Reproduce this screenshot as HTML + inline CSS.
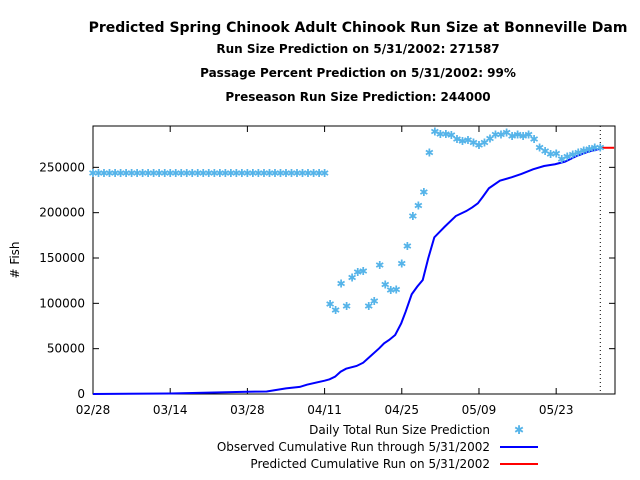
<!DOCTYPE html>
<html><head><meta charset="utf-8"><style>
body{margin:0;background:#fff;}
svg{display:block;font-family:"DejaVu Sans","Liberation Sans",sans-serif;}
</style></head><body>
<svg id="chart" width="640" height="480" viewBox="0 0 640 480">
<g font-weight="bold" text-anchor="middle">
<text x="358" y="32" font-size="14">Predicted Spring Chinook Adult Chinook Run Size at Bonneville Dam</text>
<text x="358" y="53" font-size="12">Run Size Prediction on 5/31/2002: 271587</text>
<text x="358" y="77" font-size="12">Passage Percent Prediction on 5/31/2002: 99%</text>
<text x="358" y="101" font-size="12">Preseason Run Size Prediction: 244000</text>
</g>
<text transform="translate(19,260) rotate(-90)" text-anchor="middle" font-size="12"># Fish</text>
<g id="axes"></g>
<g id="marks"></g>
<g font-size="12" text-anchor="end">
<text x="490" y="434">Daily Total Run Size Prediction</text>
<text x="519" y="434" text-anchor="middle" fill="#56b4e9" font-size="12">✱</text>
<text x="490" y="451">Observed Cumulative Run through 5/31/2002</text>
<line x1="500" y1="447" x2="538" y2="447" stroke="#0000ff" stroke-width="2"/>
<text x="490" y="468">Predicted Cumulative Run on 5/31/2002</text>
<line x1="500" y1="464" x2="538" y2="464" stroke="#ff0000" stroke-width="2"/>
</g>
</svg>
<script>
const xTickDays=[0,14,28,42,56,70,84];
const xTickLabels=["02/28","03/14","03/28","04/11","04/25","05/09","05/23"];
const yTicks=[0,50000,100000,150000,200000,250000];
const dailyDays=[];
const dailyVals=[];
for(let d=0;d<=42;d++){dailyDays.push(d);dailyVals.push(244000);}
const lateDays=[43,44,45,46,47,48,49,50,51,52,53,54,55,56,57,58,59,60,61,62,63,64,65,66,67,68,69,70,71,72,73,74,75,76,77,78,79,80,81,82,83,84,85,86,87,88,89,90,91,92];
const lateVals=[99300,92700,122100,97100,128300,134600,135700,97100,102600,142300,121000,114700,115400,144100,163200,196300,208100,222800,266500,
289300,286800,286800,285700,281300,279100,280200,277200,274600,277600,282000,286400,286400,288600,284600,286400,284600,286400,281300,272100,268000,264700,265500,259200,261800,264400,266600,268400,270200,272100,271700];
dailyDays.push(...lateDays);dailyVals.push(...lateVals);
const obsDays=[0,14,21,28,31.5,35,37.5,38.8,42,42.9,43.9,44.9,45.9,47.8,49,50.1,51.9,52.8,53.7,54.8,55.9,56.7,57.8,58.8,59.8,60.8,61.9,62.9,63.8,65.8,67.7,68.8,69.8,70.7,71.8,73.8,75.9,77.7,79.8,81.8,83.8,85.6,87.7,89.8,91.8];
const obsVals=[0,500,1500,2500,2800,6200,7800,10300,14700,16200,19100,24600,27900,30900,34500,40500,50400,55900,59600,65100,78000,90800,110000,118400,125700,149700,172800,179000,184600,196300,201800,205900,210300,217600,226900,235300,239000,242700,247800,251500,253400,256300,262500,267300,270200];
const predDays=[92,94.5];
const predVals=[271587,271587];
const cutoffDay=92;

const X0=93,X1=615,Y0=394,Y1=126,PXD=5.514,YMAX=295600;
const xs=d=>X0+d*PXD;
const ys=v=>Y0-v/YMAX*(Y0-Y1);
const NS="http://www.w3.org/2000/svg";
function mk(tag,attrs,parent){const e=document.createElementNS(NS,tag);for(const k in attrs)e.setAttribute(k,attrs[k]);parent.appendChild(e);return e;}
const axes=document.getElementById('axes'),marks=document.getElementById('marks');
const frame=mk('rect',{x:X0,y:Y1,width:X1-X0,height:Y0-Y1,fill:'none',stroke:'#000','stroke-width':1},axes);


xTickDays.forEach((d,i)=>{
 const x=xs(d);
 const t=mk('line',{x1:x,y1:Y0,x2:x,y2:Y0-6,stroke:'#000'},axes);
 
 
 const t2=mk('line',{x1:x,y1:Y1,x2:x,y2:Y1+6,stroke:'#000'},axes);
 
 
 const l=mk('text',{x:x,y:Y0+20,'text-anchor':'middle','font-size':12},axes);
 l.textContent=xTickLabels[i];
 
 
});
yTicks.forEach(v=>{
 const y=ys(v);
 const t=mk('line',{x1:X0,y1:y,x2:X0+6,y2:y,stroke:'#000'},axes);
 
 
 const t2=mk('line',{x1:X1,y1:y,x2:X1-6,y2:y,stroke:'#000'},axes);
 
 
 const l=mk('text',{x:X0-8,y:y+4,'text-anchor':'end','font-size':12},axes);
 l.textContent=String(v);
 
 
});
const cut=mk('line',{x1:xs(cutoffDay),y1:Y1,x2:xs(cutoffDay),y2:Y0,stroke:'#000','stroke-dasharray':'1,3'},marks);


const obs=mk('polyline',{points:obsDays.map((d,i)=>xs(d)+','+ys(obsVals[i])).join(' '),fill:'none',stroke:'#0000ff','stroke-width':2},marks);


const pred=mk('polyline',{points:predDays.map((d,i)=>xs(d)+','+ys(predVals[i])).join(' '),fill:'none',stroke:'#ff0000','stroke-width':2},marks);


dailyDays.forEach((d,i)=>{
 const p=mk('text',{x:xs(d),y:ys(dailyVals[i])+4,'text-anchor':'middle','font-size':11,fill:'#56b4e9'},marks);
 p.textContent='✱';
 
 
});
</script>
</body></html>
